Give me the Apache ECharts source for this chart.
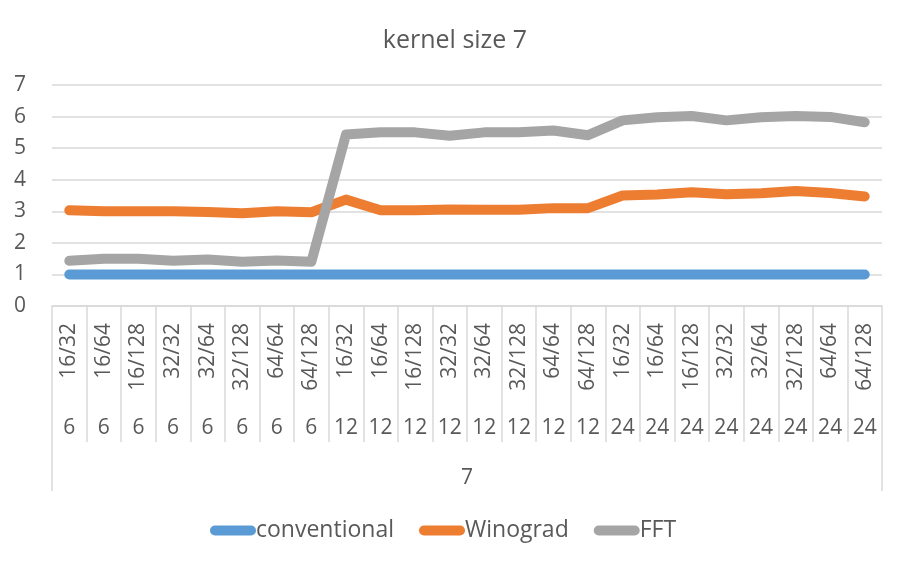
<!DOCTYPE html>
<html>
<head>
<meta charset="utf-8">
<script src="https://cdn.jsdelivr.net/npm/echarts@6/dist/echarts.min.js"></script>
<style>
  html, body { margin: 0; padding: 0; background: #fff; }
  #chart { width: 910px; height: 570px; }
</style>
</head>
<body>
<div id="chart"></div>
<script>
// 横轴三层标签
var channels = ['16/32', '16/64', '16/128', '32/32', '32/64', '32/128', '64/64', '64/128',
                '16/32', '16/64', '16/128', '32/32', '32/64', '32/128', '64/64', '64/128',
                '16/32', '16/64', '16/128', '32/32', '32/64', '32/128', '64/64', '64/128'];
var sizes = ['6', '6', '6', '6', '6', '6', '6', '6',
             '12', '12', '12', '12', '12', '12', '12', '12',
             '24', '24', '24', '24', '24', '24', '24', '24'];
var kernel = ['7'];

var conventional = [1, 1, 1, 1, 1, 1, 1, 1, 1, 1, 1, 1, 1, 1, 1, 1, 1, 1, 1, 1, 1, 1, 1, 1];
var winograd = [3.03, 3.0, 3.0, 3.0, 2.98, 2.94, 3.0, 2.97,
                3.37, 3.03, 3.03, 3.06, 3.05, 3.05, 3.1, 3.1,
                3.5, 3.53, 3.6, 3.54, 3.57, 3.64, 3.58, 3.47];
var fft = [1.43, 1.5, 1.5, 1.43, 1.47, 1.4, 1.44, 1.4,
           5.43, 5.5, 5.5, 5.39, 5.5, 5.5, 5.56, 5.41,
           5.88, 5.98, 6.02, 5.88, 5.98, 6.02, 5.99, 5.82];

var textColor = '#595959';
var lineColor = '#d9d9d9';
var font = 'Open Sans';
var capsule = 'path://M5,0 L41,0 A5,5 0 0 1 41,10 L5,10 A5,5 0 0 1 5,0 Z';

var myChart = echarts.init(document.getElementById('chart'));
var option = {
    backgroundColor: '#fff',
    animation: false,
    title: {
        text: 'kernel size 7',
        left: 'center',
        top: 23,
        textStyle: { color: textColor, fontSize: 25, fontWeight: 'normal', fontFamily: font }
    },
    legend: {
        bottom: 23,
        left: 205,
        itemWidth: 46,
        itemHeight: 10,
        itemGap: 25,
        icon: capsule,
        textStyle: { color: textColor, fontSize: 23, fontFamily: font, padding: [0, 0, 0, -5] },
        data: ['conventional', 'Winograd', 'FFT']
    },
    grid: { left: 52, right: 28, top: 85, bottom: 264 },
    xAxis: [{
        type: 'category',
        data: channels,
        axisLine: { lineStyle: { color: lineColor, width: 1.5 } },
        axisTick: { show: true, interval: 0, length: 136, lineStyle: { color: lineColor, width: 1.5 } },
        axisLabel: { interval: 0, rotate: 90, margin: 17, color: textColor, fontSize: 21, fontFamily: font }
    }, {
        type: 'category',
        data: sizes,
        position: 'bottom',
        offset: 100,
        axisLine: { show: false },
        axisTick: { show: false },
        axisLabel: { interval: 0, margin: 12, color: textColor, fontSize: 21, fontFamily: font }
    }, {
        type: 'category',
        data: kernel,
        position: 'bottom',
        offset: 136,
        axisLine: { show: false },
        axisTick: { show: true, interval: 0, length: 49, lineStyle: { color: lineColor, width: 1.5 } },
        axisLabel: { interval: 0, margin: 26, color: textColor, fontSize: 21, fontFamily: font }
    }],
    yAxis: {
        type: 'value',
        min: 0,
        max: 7,
        interval: 1,
        axisLine: { show: false },
        axisTick: { show: false },
        axisLabel: { margin: 26, color: textColor, fontSize: 21, fontFamily: font },
        splitLine: { lineStyle: { color: lineColor, width: 1.5 } }
    },
    series: [{
        name: 'conventional',
        type: 'line',
        data: conventional,
        symbol: 'none',
        itemStyle: { color: '#5b9bd5' },
        lineStyle: { width: 10, cap: 'round', join: 'round' }
    }, {
        name: 'Winograd',
        type: 'line',
        data: winograd,
        symbol: 'none',
        itemStyle: { color: '#ed7d31' },
        lineStyle: { width: 10, cap: 'round', join: 'round' }
    }, {
        name: 'FFT',
        type: 'line',
        data: fft,
        symbol: 'none',
        itemStyle: { color: '#a5a5a5' },
        lineStyle: { width: 10, cap: 'round', join: 'round' }
    }]
};
myChart.setOption(option);
window.addEventListener('resize', function () {
    myChart.resize();
});
</script>
</body>
</html>
